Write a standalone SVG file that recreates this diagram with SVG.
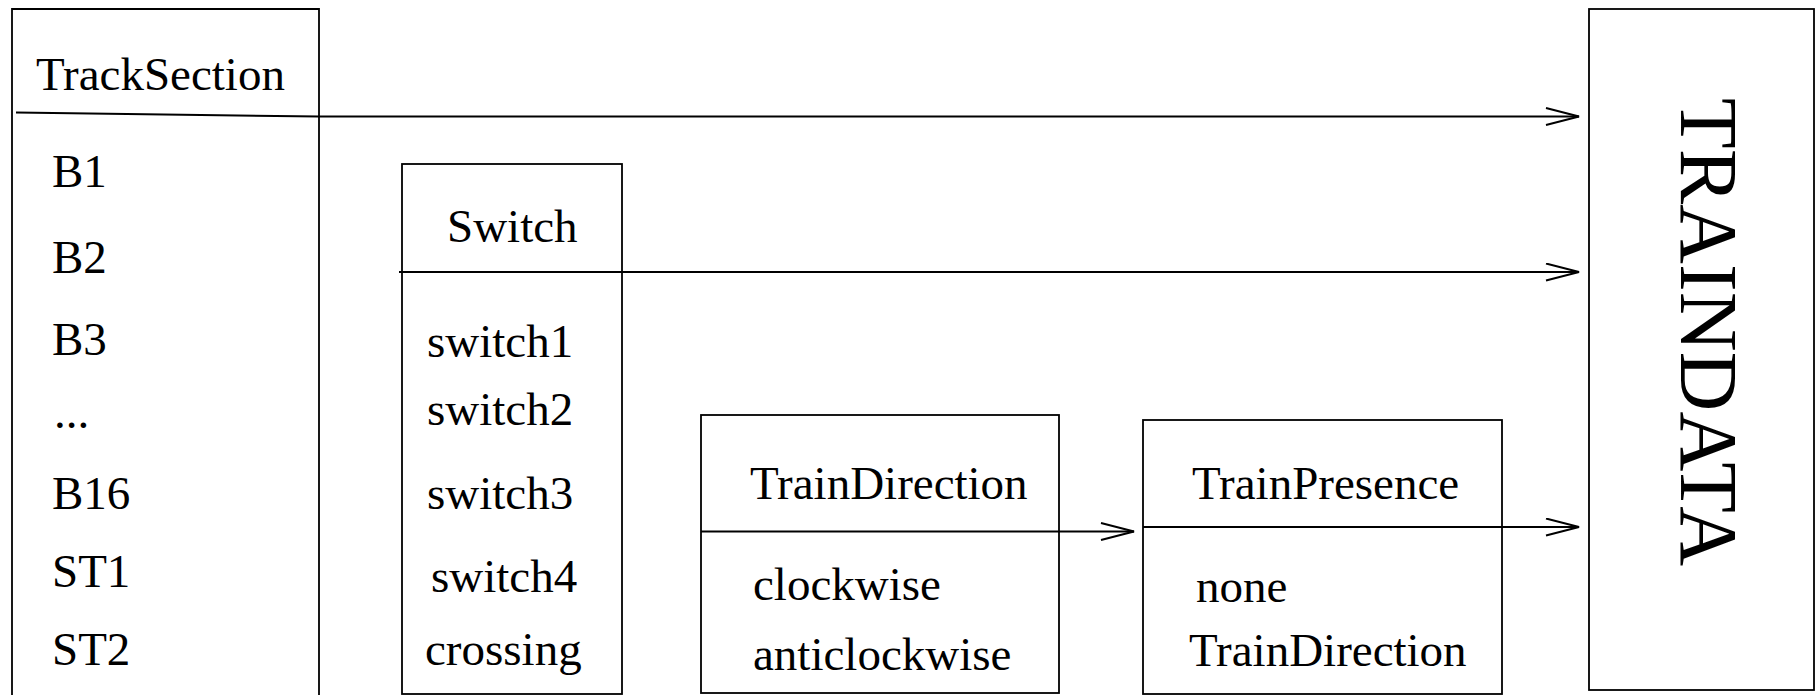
<svg xmlns="http://www.w3.org/2000/svg" width="1816" height="695" viewBox="0 0 1816 695">
<style>
text{font-family:"Liberation Serif","Times New Roman",serif;font-size:47px;fill:#000}
.box{fill:none;stroke:#000;stroke-width:1.8}
.conn{fill:none;stroke:#000;stroke-width:2}
</style>
<defs>
<marker id="arr" viewBox="0 0 36 20" refX="34" refY="9.5" markerWidth="36" markerHeight="20" markerUnits="userSpaceOnUse" orient="auto">
<path d="M1,1 L34,9.5 L1,18" fill="none" stroke="#000" stroke-width="2"/>
</marker>
</defs>
<rect width="1816" height="695" fill="#fff"/>
<g id="TrackSection">
<path class="box" d="M12,700 L12,9 L319,9 L319,700"/>
<text x="36" y="90">TrackSection</text>
<text x="52" y="187">B1</text>
<text x="52" y="273">B2</text>
<text x="52" y="355">B3</text>
<text x="54" y="428">...</text>
<text x="52" y="509">B16</text>
<text x="52" y="587">ST1</text>
<text x="52" y="665">ST2</text>
</g>
<g id="Switch">
<rect class="box" x="402" y="164" width="220" height="530"/>
<text x="447" y="242">Switch</text>
<text x="427" y="357">switch1</text>
<text x="427" y="425">switch2</text>
<text x="427" y="509">switch3</text>
<text x="431" y="592">switch4</text>
<text x="425" y="665">crossing</text>
</g>
<g id="TrainDirection">
<rect class="box" x="701" y="415" width="358" height="278"/>
<text x="750" y="499">TrainDirection</text>
<text x="753" y="600">clockwise</text>
<text x="753" y="670">anticlockwise</text>
</g>
<g id="TrainPresence">
<rect class="box" x="1143" y="420" width="359" height="274"/>
<text x="1192" y="499">TrainPresence</text>
<text x="1196" y="602">none</text>
<text x="1189" y="666">TrainDirection</text>
</g>
<g id="TRAINDATA">
<rect class="box" x="1589" y="9" width="225" height="681"/>
<text transform="translate(1681,98) rotate(90)" style="font-size:83px">TRAINDATA</text>
</g>
<g id="connectors">
<polyline class="conn" points="16,112.5 319,116.5 1579,116.5" marker-end="url(#arr)"/>
<line class="conn" x1="399" y1="272" x2="1579" y2="272" marker-end="url(#arr)"/>
<line class="conn" x1="701" y1="531.5" x2="1134" y2="531.5" marker-end="url(#arr)"/>
<line class="conn" x1="1143" y1="527" x2="1579" y2="527" marker-end="url(#arr)"/>
</g>
</svg>
